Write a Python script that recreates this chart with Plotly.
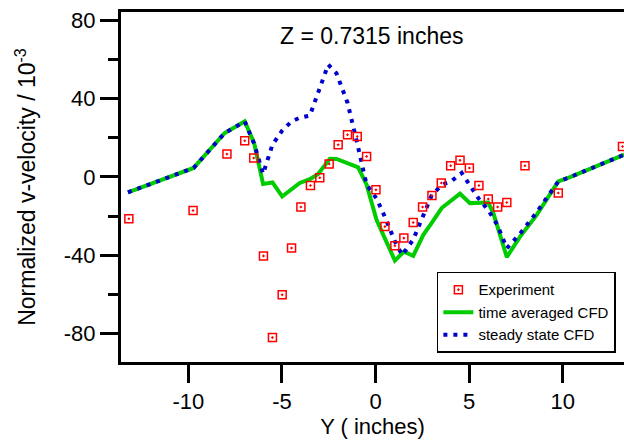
import plotly.graph_objects as go

# Experiment data
exp_y = [-13.18, -9.75, -7.94, -6.99, -6.51, -5.99, -5.51, -4.99, -4.49, -3.99, -3.48,
         -2.98, -2.48, -2.0, -1.50, -0.98, -0.48, 0.02, 0.50, 1.03, 1.51, 2.01, 2.51,
         3.01, 3.51, 4.01, 4.51, 5.01, 5.52, 6.02, 6.52, 7.01, 7.98, 9.76, 13.19]
exp_v = [-21.4, -17.2, 11.7, 18.5, 9.7, -40.4, -82.2, -60.3, -36.4, -15.4, -4.4,
         -0.4, 6.6, 16.5, 21.6, 20.7, 10.5, -6.6, -25.4, -35.2, -31.3, -23.3, -15.4,
         -9.5, -3.1, 5.7, 8.5, 4.6, -4.4, -11.3, -15.4, -13.1, 5.7, -8.2, 15.6]

# time averaged CFD
ta_y = [-13.23, -9.72, -8.06, -6.99, -6.49, -6.01, -5.51, -4.99, -4.05, -3.51, -3.07,
        -2.44, -2.09, -0.93, -0.48, 0.05, 1.03, 1.51, 2.01, 2.55, 2.99, 3.53, 4.51,
        5.04, 6.02, 6.29, 7.01, 7.72, 8.61, 9.76, 10.39, 13.28]
ta_v = [-7.9, 4.6, 22.5, 28.4, 17.4, -3.6, -2.8, -10.0, -3.1, -1.1, 1.5,
        9.3, 9.2, 4.9, -4.0, -21.9, -42.8, -38.2, -40.4, -29.6, -23.6, -15.9, -8.6,
        -13.4, -13.1, -18.5, -41.0, -30.5, -19.4, -2.3, -0.1, 11.4]

# steady state CFD
ss_y = [-13.23, -9.72, -8.06, -6.99, -6.49, -6.01, -5.51, -4.99, -4.5, -4.05, -3.51,
        -3.07, -2.53, -2.09, -1.5, -1.0, -0.48, 0.05, 0.5, 1.03, 1.42, 2.01, 2.55,
        2.99, 3.53, 4.0, 4.6, 5.04, 5.5, 6.02, 6.5, 7.01, 7.72, 8.61, 9.76, 10.39, 13.28]
ss_v = [-7.9, 4.6, 22.5, 28.4, 17.0, 1.6, 16.5, 23.7, 28.3, 30.3, 31.4,
        43.0, 57.5, 53.0, 38.0, 18.0, -4.0, -11.0, -20.5, -33.0, -40.0, -32.0, -19.0,
        -9.6, -4.0, -2.5, 2.0, -4.5, -11.0, -17.0, -24.5, -36.5, -29.0, -18.0, -2.3, -0.1, 11.4]

x_ticks = [-10, -5, 0, 5, 10]
x_ticktext = ["-10", "-5", "0", "5", "10"]
y_ticks = [-80, -40, 0, 40, 80]
y_ticktext = ["-80", "-40", "0", "40", "80"]

FONT = "Arial, Liberation Sans, sans-serif"

fig = go.Figure()
fig.add_trace(go.Scatter(x=ta_y, y=ta_v, mode="lines", name="time averaged CFD",
                         line=dict(color="rgb(0,204,0)", width=4), legendrank=2))
fig.add_trace(go.Scatter(x=ss_y, y=ss_v, mode="lines", name="steady state CFD",
                         line=dict(color="rgb(0,0,204)", width=4, dash="4px,6px"), legendrank=3))
fig.add_trace(go.Scatter(x=exp_y, y=exp_v, mode="markers", name="Experiment",
                         marker=dict(symbol="square-open-dot", size=8, color="rgb(255,0,0)",
                                     line=dict(width=1.5, color="rgb(255,0,0)")), legendrank=1))

fig.add_annotation(text="Z = 0.7315 inches", x=0.4985, y=0.93, xref="paper", yref="paper",
                   xanchor="center", yanchor="middle",
                   showarrow=False, font=dict(size=23, color="black", family=FONT))

fig.update_layout(
    width=624, height=447,
    margin=dict(l=121, r=0, t=12, b=85),
    paper_bgcolor="white", plot_bgcolor="white",
    font=dict(family=FONT, size=22, color="black"),
    showlegend=True,
    legend=dict(x=0.628, y=0.2575, xanchor="left", yanchor="top",
                bordercolor="black", borderwidth=1.5, bgcolor="white",
                font=dict(size=15, family=FONT), tracegroupgap=0,
                itemwidth=30),
    xaxis=dict(range=[-13.6, 13.27], tickvals=x_ticks, ticktext=x_ticktext,
               ticks="outside", ticklen=18, automargin=False,
               tickwidth=3, tickcolor="black", showline=True, linewidth=3, linecolor="black",
               mirror=True, showgrid=False, zeroline=False,
               title=dict(text="Y ( inches)", standoff=0, font=dict(size=22)),
               tickfont=dict(size=22)),
    yaxis=dict(range=[-94.7, 84.4], tickvals=y_ticks, ticktext=y_ticktext,
               ticks="outside", ticklen=18, automargin=False,
               tickwidth=3, tickcolor="black", showline=True, linewidth=3, linecolor="black",
               showgrid=False, zeroline=False,
               minor=dict(tickvals=[-60, -20, 20, 60], ticks="outside", ticklen=10,
                          tickwidth=3, tickcolor="black"),
               title=dict(text="Normalized v-velocity / 10<sup>-3</sup>", standoff=22,
                          font=dict(size=23)),
               tickfont=dict(size=22)),
)

fig.write_html("out.html", config={"displayModeBar": False},
               post_script="document.body.style.margin='0';")
